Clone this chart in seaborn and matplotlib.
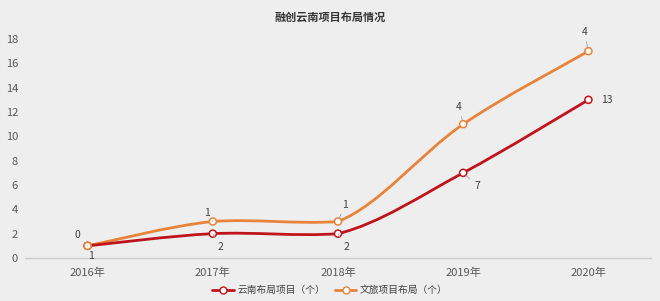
import numpy as np
import pandas as pd
import seaborn as sns
import matplotlib
matplotlib.use("Agg")
import matplotlib.pyplot as plt
from matplotlib.path import Path
from matplotlib.patches import PathPatch
from matplotlib.lines import Line2D

# ---- data ----
years = ['2016年', '2017年', '2018年', '2019年', '2020年']
yunnan = [1, 2, 2, 7, 13]
wenlv = [1, 3, 3, 11, 17]
yunnan_labels = ['1', '2', '2', '7', '13']
wenlv_labels = ['0', '1', '1', '4', '4']
series_names = ['云南布局项目（个）', '文旅项目布局（个）']
title = '融创云南项目布局情况'
yticks = [0, 2, 4, 6, 8, 10, 12, 14, 16, 18]

sns.set_theme(style='white')
plt.rcParams['font.family'] = ['Noto Sans CJK SC', 'DejaVu Sans']

BG = '#eeeeee'
RED = '#c0141c'
ORANGE = '#e8843a'

fig = plt.figure(figsize=(6.6, 3.01), dpi=100, facecolor=BG)
ax = fig.add_axes([25 / 660, 1 - 258 / 301, (651 - 25) / 660, (258 - 39) / 301])
ax.set_facecolor(BG)

x = np.arange(len(years))
df = pd.DataFrame({'x': np.concatenate([x, x]),
                   'y': yunnan + wenlv,
                   'series': [series_names[0]] * len(x) + [series_names[1]] * len(x)})


def smooth_path(xs, ys):
    pts = np.column_stack([xs, ys]).astype(float)
    n = len(pts)
    verts = [pts[0]]
    codes = [Path.MOVETO]
    for i in range(n - 1):
        p0 = pts[i - 1] if i > 0 else pts[i]
        p1 = pts[i]
        p2 = pts[i + 1]
        p3 = pts[i + 2] if i + 2 < n else pts[i + 1]
        c1 = p1 + (p2 - p0) / 6.0
        c2 = p2 - (p3 - p1) / 6.0
        lo, hi = min(p1[1], p2[1]) - 0.25, max(p1[1], p2[1]) + 0.25
        c1[1] = np.clip(c1[1], lo, hi)
        c2[1] = np.clip(c2[1], lo, hi)
        verts += [c1, c2, p2]
        codes += [Path.CURVE4] * 3
    return Path(verts, codes)


for vals, col in [(wenlv, ORANGE), (yunnan, RED)]:
    ax.add_patch(PathPatch(smooth_path(x, vals), facecolor='none', edgecolor=col,
                           lw=2.0, capstyle='round', zorder=3))

sns.scatterplot(data=df, x='x', y='y', hue='series',
                palette={series_names[0]: RED, series_names[1]: ORANGE},
                linewidth=1.1, s=26, zorder=5, ax=ax, legend=False)
# make markers hollow
for coll in ax.collections:
    fc = coll.get_facecolors()
    coll.set_edgecolors(fc)
    coll.set_facecolors('white')

ax.set_xlim(-0.5, 4.5)
ax.set_ylim(0, 18)
ax.set_xticks(x)
ax.set_xticklabels(years)
ax.set_yticks(yticks)
ax.set_xlabel('')
ax.set_ylabel('')
ax.tick_params(axis='both', length=0, labelsize=8, colors='#595959')
ax.tick_params(axis='x', pad=7)
ax.tick_params(axis='y', pad=5)
for s in ['top', 'right', 'left']:
    ax.spines[s].set_visible(False)
ax.spines['bottom'].set_color('#cccccc')
ax.spines['bottom'].set_linewidth(1.0)

# data labels (offset pixels)
lead = dict(arrowstyle='-', color='#a0a0a0', lw=0.6, shrinkA=1, shrinkB=3)
wenlv_off = [(-10, 11), (-6, 9), (7, 17), (-4, 17), (-4, 19)]
yunnan_off = [(3, -10), (8, -13), (8, -13), (14, -13), (18, 0)]
for i in range(len(years)):
    ox, oy = wenlv_off[i]
    ax.annotate(wenlv_labels[i], (x[i], wenlv[i]), xytext=(ox, oy), textcoords='offset pixels',
                ha='center', va='center', fontsize=7.5, color='#404040', arrowprops=lead, zorder=6)
    ox, oy = yunnan_off[i]
    ax.annotate(yunnan_labels[i], (x[i], yunnan[i]), xytext=(ox, oy), textcoords='offset pixels',
                ha='center', va='center', fontsize=7.5, color='#404040',
                arrowprops=(lead if i < 4 else None), zorder=6)

fig.text(0.5, 1 - 17 / 301, title, ha='center', va='center', fontsize=8, fontweight='bold',
         color='#333333')

handles = [Line2D([0], [0], color=RED, lw=2, marker='o', markersize=5, markerfacecolor='white',
                  markeredgecolor=RED),
           Line2D([0], [0], color=ORANGE, lw=2, marker='o', markersize=5, markerfacecolor='white',
                  markeredgecolor=ORANGE)]
fig.legend(handles, series_names, loc='center', bbox_to_anchor=(0.5, 1 - 290 / 301), ncol=2,
           frameon=False, fontsize=7, handlelength=2.2, columnspacing=1.0, labelcolor='#404040',
           handletextpad=0.4)

fig.savefig('out.png', dpi=100, facecolor=BG)
